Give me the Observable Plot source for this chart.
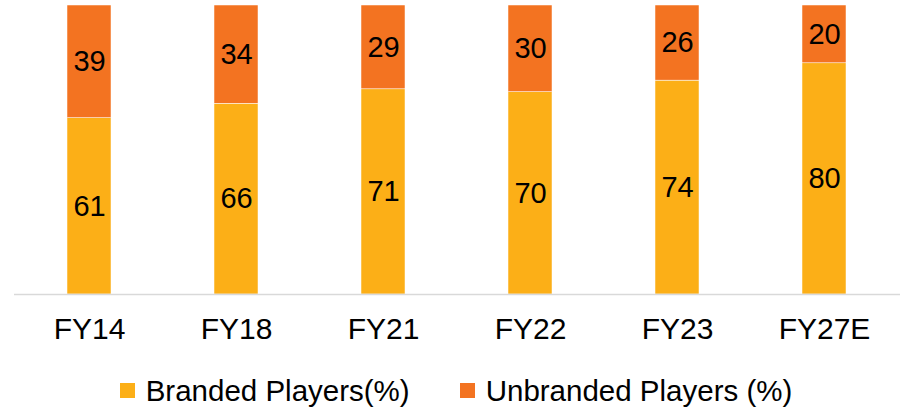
<!DOCTYPE html>
<html>
<head>
<meta charset="utf-8">
<script src="https://cdn.jsdelivr.net/npm/d3@7"></script>
<script src="https://cdn.jsdelivr.net/npm/@observablehq/plot@0.6"></script>
<style>
  html, body { margin: 0; padding: 0; background: #fff; }
  body { width: 905px; height: 409px; overflow: hidden; font-family: "Liberation Sans", Arial, Helvetica, sans-serif; }
  #legend { display: flex; justify-content: center; align-items: center; gap: 50px; padding-top: 16px; font-size: 29.5px; line-height: 29px; color: #000; margin-left: 7px; }
  .item { display: flex; align-items: center; }
  .sw { width: 15px; height: 15px; margin-right: 11px; }
</style>
</head>
<body>
<div id="chart"></div>
<div id="legend"></div>
<script>
const categories = ["FY14", "FY18", "FY21", "FY22", "FY23", "FY27E"];
const seriesNames = ["Branded Players(%)", "Unbranded Players (%)"];
const branded = [61, 66, 71, 70, 74, 80];
const unbranded = [39, 34, 29, 30, 26, 20];
const colors = ["#FCAF17", "#F37321"];

const data = [];
categories.forEach((c, i) => {
  data.push({ year: c, series: seriesNames[0], value: branded[i] });
  data.push({ year: c, series: seriesNames[1], value: unbranded[i] });
});

const chart = Plot.plot({
  width: 905,
  height: 360,
  marginTop: 5,
  marginBottom: 66,
  marginLeft: 14,
  marginRight: 5,
  style: { fontFamily: '"Liberation Sans", Arial, Helvetica, sans-serif', background: "#fff" },
  x: { domain: categories, paddingInner: 0.7, paddingOuter: 0.35, label: null },
  y: { domain: [0, 100], axis: null },
  color: { domain: seriesNames, range: colors },
  marks: [
    Plot.barY(data, Plot.stackY({ x: "year", y: "value", z: "series", fill: "series", order: null, stroke: "#fff", strokeWidth: 0.5 })),
    Plot.text(data, Plot.stackY({ x: "year", y: "value", z: "series", order: null, text: d => String(d.value), fontSize: 29, fill: "#000" })),
    Plot.ruleY([0], { stroke: "#d9d9d9", strokeWidth: 1.5 }),
    Plot.axisX({ tickSize: 0, tickPadding: 23, fontSize: 30, label: null, fill: "#000" })
  ]
});
document.getElementById("chart").appendChild(chart);

const legend = document.getElementById("legend");
seriesNames.forEach((name, i) => {
  const item = document.createElement("div");
  item.className = "item";
  const sw = document.createElement("div");
  sw.className = "sw";
  sw.style.background = colors[i];
  const label = document.createElement("span");
  label.textContent = name;
  item.appendChild(sw);
  item.appendChild(label);
  legend.appendChild(item);
});
</script>
</body>
</html>
